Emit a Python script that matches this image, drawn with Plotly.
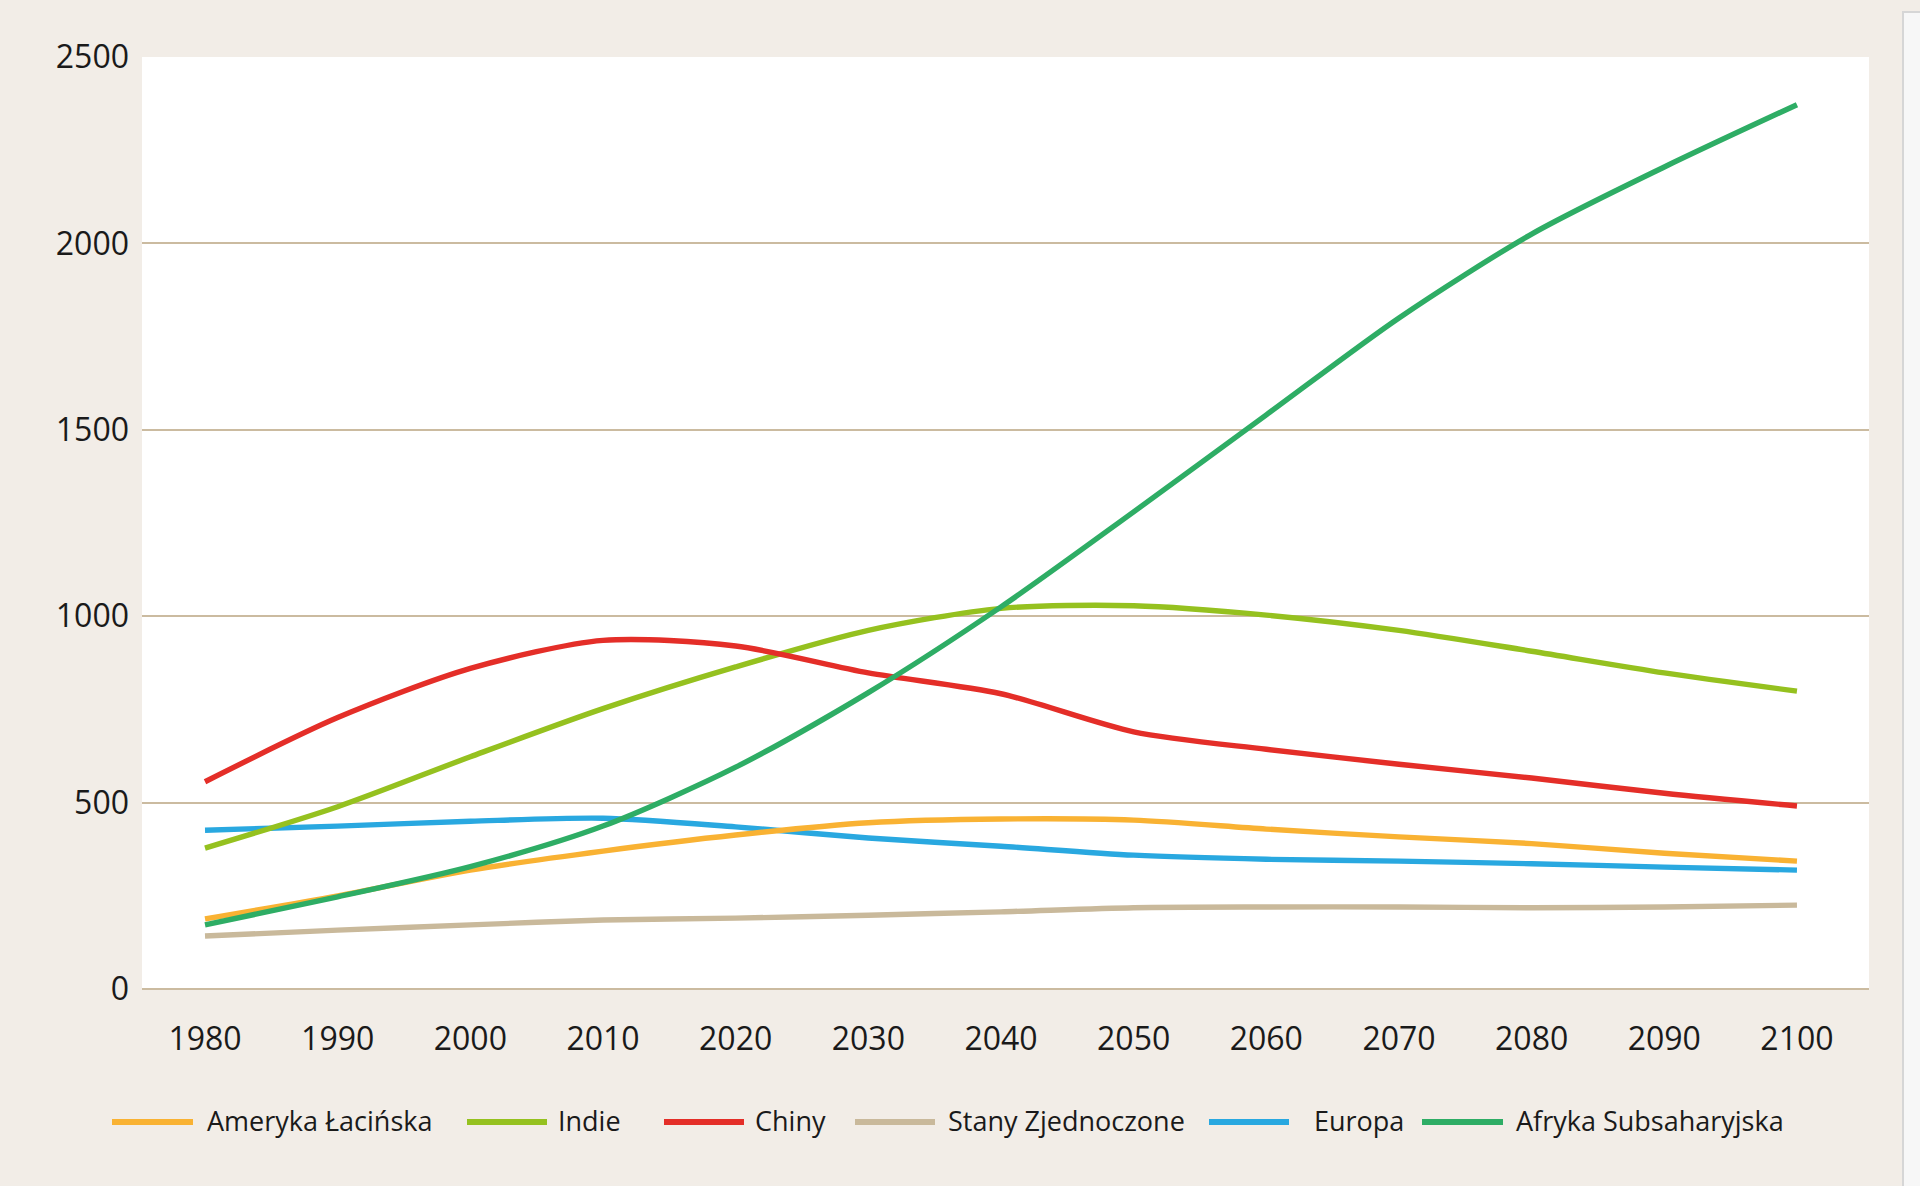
import plotly.graph_objects as go

years = [1980, 1990, 2000, 2010, 2020, 2030, 2040, 2050, 2060, 2070, 2080, 2090, 2100]

ameryka_lacinska = [188, 250, 319, 370, 413, 446, 456, 453, 429, 408, 390, 364, 343]
indie = [378, 489, 623, 752, 864, 962, 1021, 1028, 1003, 962, 906, 848, 799]
chiny = [556, 728, 860, 935, 920, 848, 792, 690, 643, 603, 566, 525, 491]
stany_zjednoczone = [142, 158, 172, 185, 190, 198, 207, 218, 220, 220, 218, 220, 225]
europa = [426, 437, 450, 458, 435, 405, 383, 359, 348, 343, 336, 327, 319]
afryka_subsaharyjska = [172, 247, 328, 437, 595, 795, 1025, 1280, 1540, 1800, 2025, 2205, 2372]

series_names = ["Ameryka Łacińska", "Indie", "Chiny", "Stany Zjednoczone", "Europa", "Afryka Subsaharyjska"]
series_values = [ameryka_lacinska, indie, chiny, stany_zjednoczone, europa, afryka_subsaharyjska]
colors = ["#F9B233", "#95C11F", "#E42E28", "#C9B99B", "#29A8E0", "#2EAD65"]

y_ticks = [0, 500, 1000, 1500, 2000, 2500]
x_ticks = years

FONT = "Open Sans"
W, H = 1920, 1186
L, R, T, B = 142, 1869, 57, 989  # plot area in pixels

fig = go.Figure()
# draw order: tan first, then others, green last on top
order = [3, 4, 0, 1, 2, 5]
for i in order:
    fig.add_trace(go.Scatter(
        x=years, y=series_values[i], name=series_names[i], mode="lines",
        line=dict(color=colors[i], width=5.4, shape="spline", smoothing=0.8),
        showlegend=False, hoverinfo="x+y+name",
    ))

def px_x(px):
    return (px - L) / (R - L)

def px_y(py):
    return (B - py) / (B - T)

shapes = []
annotations = []
legend_swatches = [(112, 193), (467, 547), (664, 744), (855, 935), (1209, 1289), (1422, 1503)]
legend_text_x = [205, 556, 753, 946, 1312, 1514]
leg_y = 1122
for i in range(6):
    x0, x1 = legend_swatches[i]
    shapes.append(dict(type="line", xref="paper", yref="paper",
                       x0=px_x(x0), x1=px_x(x1), y0=px_y(leg_y), y1=px_y(leg_y),
                       line=dict(color=colors[i], width=6)))
    annotations.append(dict(xref="paper", yref="paper", x=px_x(legend_text_x[i]), y=px_y(leg_y - 2),
                            xanchor="left", yanchor="middle", showarrow=False,
                            text=series_names[i], font=dict(family=FONT, size=27, color="#1a1a1a")))

# page edge artefact on the right
shapes.append(dict(type="rect", xref="paper", yref="paper", layer="below",
                   x0=px_x(1903), x1=px_x(1925), y0=px_y(1190), y1=px_y(12),
                   fillcolor="#f7f7f7", line=dict(color="#d6d6d6", width=2)))

fig.update_layout(
    width=W, height=H,
    margin=dict(l=L, r=W - R, t=T, b=H - B, pad=0),
    paper_bgcolor="#F2EDE7",
    plot_bgcolor="#FFFFFF",
    font=dict(family=FONT, color="#1a1a1a"),
    showlegend=False,
    shapes=shapes,
    annotations=annotations,
    xaxis=dict(
        range=[1975.25, 2105.43], tickmode="array", tickvals=x_ticks,
        ticktext=[str(y) for y in x_ticks], showgrid=False, zeroline=False,
        showline=False, ticks="", tickfont=dict(family=FONT, size=32, color="#1a1a1a"),
        ticklabelstandoff=28,
    ),
    yaxis=dict(
        range=[0, 2500], tickmode="array", tickvals=y_ticks,
        ticktext=[str(v) for v in y_ticks], showgrid=True, gridcolor="#CBBBA0",
        gridwidth=1.8, zeroline=True, zerolinecolor="#CBBBA0", zerolinewidth=2.2,
        showline=False, ticks="", tickfont=dict(family=FONT, size=32, color="#1a1a1a"),
        ticklabelstandoff=12,
    ),
)

fig.write_html("out.html", config={"displayModeBar": False},
               post_script="document.body.style.margin='0';document.body.style.overflow='hidden';")
